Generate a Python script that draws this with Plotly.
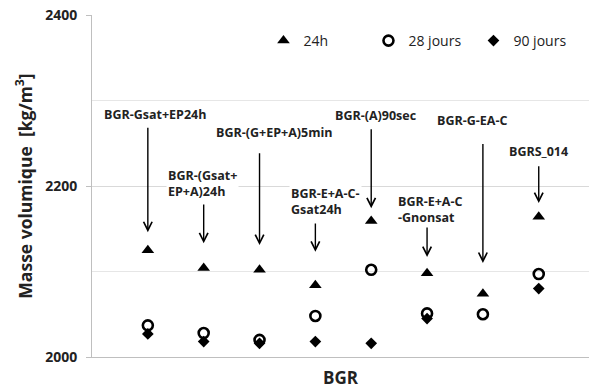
import plotly.graph_objects as go

categories = ["BGR-Gsat+EP24h", "BGR-(Gsat+EP+A)24h", "BGR-(G+EP+A)5min",
              "BGR-E+A-C-Gsat24h", "BGR-(A)90sec", "BGR-E+A-C-Gnonsat",
              "BGR-G-EA-C", "BGRS_014"]
labels = ["BGR-Gsat+EP24h", "BGR-(Gsat+<br>EP+A)24h", "BGR-(G+EP+A)5min",
          "BGR-E+A-C-<br>Gsat24h", "BGR-(A)90sec", "BGR-E+A-C<br>-Gnonsat",
          "BGR-G-EA-C", "BGRS_014"]
v24h = [2125, 2104, 2102, 2084, 2159, 2098, 2074, 2164]
v28j = [2037, 2028, 2020, 2048, 2102, 2051, 2050, 2097]
v90j = [2027, 2018, 2016, 2018, 2016, 2045, None, 2080]

# annotation layout (data units): arrow head / tail y, label x (index) / y
arrow_head = [2146, 2133, 2131, 2123, 2174, 2117, 2110, 2180]
arrow_tail = [2270, 2180, 2240, 2158, 2268, 2154, 2251, 2225]
label_x = [0.13, 0.33, 2.26, 2.53, 4.09, 4.45, 5.81, 6.99]
label_y = [2284, 2203, 2263, 2182, 2282, 2173, 2277, 2240]
label_anchor = ["center", "left", "center", "left", "center", "left", "center", "center"]

FONT = "Open Sans"

fig = go.Figure()
fig.add_trace(go.Scatter(x=categories, y=v24h, mode="markers", name="24h",
                         marker=dict(symbol="triangle-up", size=11, color="black")))
fig.add_trace(go.Scatter(x=categories, y=v28j, mode="markers", name="28 jours",
                         marker=dict(symbol="circle-open", size=10, color="black",
                                     line=dict(width=2.6, color="black"))))
fig.add_trace(go.Scatter(x=categories, y=v90j, mode="markers", name="90 jours",
                         marker=dict(symbol="diamond", size=9, color="black")))

for i, cat in enumerate(categories):
    fig.add_annotation(x=i, y=arrow_head[i], ax=i, ay=arrow_tail[i],
                       xref="x", yref="y", axref="x", ayref="y", text="",
                       showarrow=True, arrowhead=5, arrowsize=1.2,
                       arrowwidth=1.4, arrowcolor="black")
    fig.add_annotation(x=label_x[i], y=label_y[i], xref="x", yref="y",
                       text=labels[i], showarrow=False, xanchor=label_anchor[i],
                       align="left", bgcolor="white",
                       font=dict(family=FONT, size=12.5, color="#222222", weight="bold"))

fig.update_layout(
    width=589, height=389,
    margin=dict(l=92, r=0, t=15, b=32),
    paper_bgcolor="white", plot_bgcolor="white",
    font=dict(family=FONT, color="#222222"),
    showlegend=True,
    legend=dict(orientation="h", x=0.345, y=0.924, xanchor="left", yanchor="middle",
                font=dict(size=14, family=FONT), entrywidth=60,
                bgcolor="rgba(0,0,0,0)"),
    xaxis=dict(range=[-1, 7.9], showticklabels=False, showgrid=False,
               showline=True, linecolor="#bfbfbf", linewidth=1, ticks="",
               automargin=False,
               title=dict(text="BGR", standoff=16,
                          font=dict(size=17, family=FONT, weight="bold"))),
    yaxis=dict(range=[2000, 2400], dtick=200, tick0=2000,
               showgrid=True, gridcolor="#d9d9d9", gridwidth=1,
               minor=dict(dtick=100, showgrid=True, gridcolor="#e6e6e6"),
               showline=True, linecolor="#bfbfbf", linewidth=1,
               ticks="outside", ticklen=5, tickcolor="#bfbfbf",
               ticklabelstandoff=6, ticklabeloverflow="allow",
               automargin=False,
               tickfont=dict(size=14, family=FONT, weight="bold"),
               zeroline=False,
               title=dict(text="Masse volumique  [kg/m<sup>3</sup>]", standoff=8,
                          font=dict(size=17.5, family=FONT, weight="bold"))),
)

# remove the default 8 px page margin so the figure sits at the window's corner
fig.write_html("out.html", config={"displayModeBar": False},
               post_script="document.body.style.margin='0';")
